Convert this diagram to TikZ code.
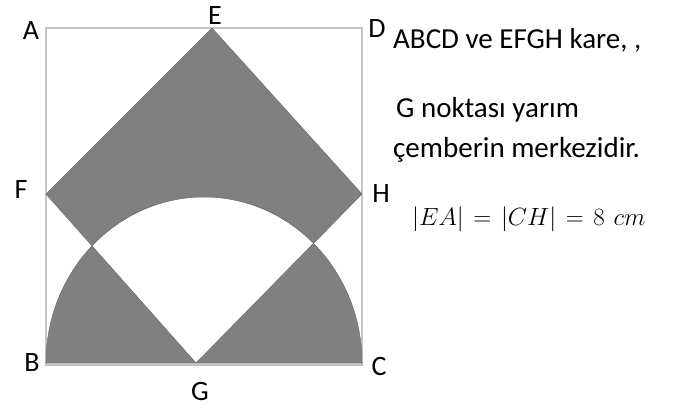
\documentclass[tikz,border=0pt]{standalone}
\usepackage{fontspec}
\setmainfont{Carlito}
\definecolor{fillgray}{HTML}{808080}
\definecolor{edgegray}{HTML}{6C6C6C}
\definecolor{framegray}{HTML}{C4C4C4}
\begin{document}
\begin{tikzpicture}[x=1pt,y=-1pt,
  lbl/.style={inner sep=0pt,font=\fontsize{28}{30}\selectfont},
  txt/.style={inner sep=0pt,anchor=base west,font=\fontsize{29}{32}\selectfont},
  mtxt/.style={inner sep=0pt,anchor=base west,font=\fontsize{29}{31}\selectfont},
  frame/.style={draw=framegray,line width=1.5pt},
  shade/.style={fill=fillgray,even odd rule},
  edge/.style={draw=edgegray,line width=0.5pt}]
\useasboundingbox (0,0) rectangle (680,408);
% points
\coordinate (A) at (46,28);
\coordinate (D) at (362,28);
\coordinate (B) at (46,365);
\coordinate (C) at (362,365);
\coordinate (E) at (212,28);
\coordinate (F) at (46,194);
\coordinate (G) at (196,363);
\coordinate (H) at (362,194);
\coordinate (L) at (46,363);
\coordinate (R) at (362,363);
% square ABCD
\draw[frame] (A) rectangle (C);
% shaded symmetric difference of EFGH and half-ellipse
\fill[shade] (E) -- (F) -- (G) -- (H) -- cycle
  (L) arc[start angle=180,end angle=0,x radius=158pt,y radius=166pt] -- cycle;
\draw[edge] (E) -- (F) -- (G) -- (H) -- cycle;
\draw[edge] (L) arc[start angle=180,end angle=0,x radius=158pt,y radius=166pt] -- cycle;
% labels
\node[lbl] (lA) at (31,31) {A};
\node[lbl] (lE) at (215,15.5) {E};
\node[lbl] (lD) at (377,29) {D};
\node[lbl] (lF) at (21,190) {F};
\node[lbl] (lH) at (381,194) {H};
\node[lbl] (lB) at (32,363) {B};
\node[lbl] (lC) at (379,367) {C};
\node[lbl] (lG) at (200,392) {G};
% text
\node[txt] (t1) at (393,48) {ABCD ve EFGH kare, ,};
\node[txt] (t2) at (396,117) {G noktası yarım};
\node[txt] (t3) at (393,157) {çemberin merkezidir.};
\node[mtxt] (t4) at (412,225) {\thickmuskip=7mu $|EA|=|CH|=8\hspace{0.3em}cm$};
\end{tikzpicture}
\end{document}
